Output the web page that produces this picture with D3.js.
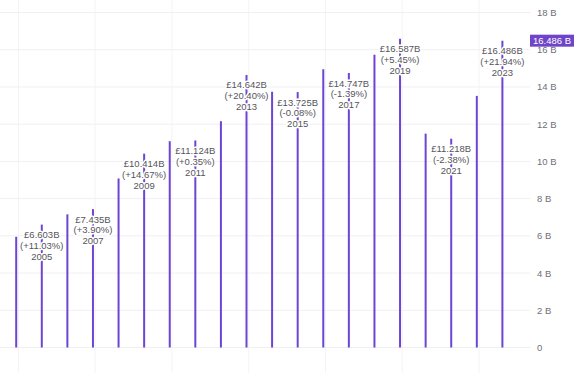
<!DOCTYPE html>
<html>
<head>
<meta charset="utf-8">
<script src="https://cdn.jsdelivr.net/npm/d3@7"></script>
<style>
  html, body { margin: 0; padding: 0; background: #fff; }
  svg { display: block; }
</style>
</head>
<body>
<div id="chart"></div>
<script>
const years = [2004, 2005, 2006, 2007, 2008, 2009, 2010, 2011, 2012, 2013,
               2014, 2015, 2016, 2017, 2018, 2019, 2020, 2021, 2022, 2023]
// billions of pounds
const values = [5.947, 6.603, 7.156, 7.435, 9.082, 10.414, 11.085, 11.124, 12.161, 14.642,
                13.736, 13.725, 14.955, 14.747, 15.730, 16.587, 11.492, 11.218, 13.520, 16.486]
const labelYears = [2005, 2007, 2009, 2011, 2013, 2015, 2017, 2019, 2021, 2023]
const labelChanges = ["+11.03%", "+3.90%", "+14.67%", "+0.35%", "+20.40%",
                      "-0.08%", "-1.39%", "+5.45%", "-2.38%", "+21.94%"]
const yTicks = [0, 2, 4, 6, 8, 10, 12, 14, 16, 18]
const gridYears = [2004, 2007, 2010, 2013, 2016, 2019, 2022]

const width = 577, height = 373
const purple = "#6d44d4"

const svg = d3.select("#chart").append("svg")
    .attr("width", width)
    .attr("height", height)

const x = d3.scalePoint()
    .domain(years)
    .range([16.2, 502.4])

const y = d3.scaleLinear()
    .domain([0, 18])
    .range([347.5, 12.5])

// grid
svg.append("g").selectAll("line")
    .data(gridYears)
    .join("line")
    .attr("x1", d => x(d) + 2.2)
    .attr("x2", d => x(d) + 2.2)
    .attr("y1", 0)
    .attr("y2", height)
    .attr("stroke", "#f4f4f6")
    .attr("stroke-width", 1)

svg.append("g").selectAll("line")
    .data(yTicks)
    .join("line")
    .attr("x1", 0)
    .attr("x2", 530)
    .attr("y1", d => y(d))
    .attr("y2", d => y(d))
    .attr("stroke", "#f0f0f2")
    .attr("stroke-width", 1)

// y axis on the right
const axis = svg.append("g")
    .attr("transform", "translate(533,0)")
    .call(d3.axisRight(y)
        .tickValues(yTicks)
        .tickSize(0)
        .tickPadding(4)
        .tickFormat(d => d === 0 ? "0" : d + " B"))
axis.select(".domain").remove()
axis.selectAll("text")
    .attr("fill", "#707078")
    .attr("font-family", "Liberation Sans, Arial, sans-serif")
    .attr("font-size", 9.5)

// bars
const data = years.map((yr, i) => ({year: yr, value: values[i]}))
svg.append("g").selectAll("line")
    .data(data)
    .join("line")
    .attr("x1", d => x(d.year))
    .attr("x2", d => x(d.year))
    .attr("y1", y(0))
    .attr("y2", d => y(d.value))
    .attr("stroke", purple)
    .attr("stroke-width", 2)

// labels on odd years
const labels = labelYears.map((yr, i) => ({
    year: yr,
    value: values[years.indexOf(yr)],
    change: labelChanges[i]
}))
const lbl = svg.append("g").selectAll("text")
    .data(labels)
    .join("text")
    .attr("x", d => x(d.year))
    .attr("y", d => y(d.value) + 13.5)
    .attr("text-anchor", "middle")
    .attr("font-family", "Liberation Sans, Arial, sans-serif")
    .attr("font-size", 9.5)
    .attr("fill", "#55555c")
    .attr("stroke", "#fff")
    .attr("stroke-width", 3)
    .attr("stroke-linejoin", "round")
    .attr("paint-order", "stroke")
lbl.append("tspan")
    .attr("x", d => x(d.year))
    .text(d => "£" + d.value.toFixed(3) + "B")
lbl.append("tspan")
    .attr("x", d => x(d.year))
    .attr("dy", 10.8)
    .text(d => "(" + d.change + ")")
lbl.append("tspan")
    .attr("x", d => x(d.year))
    .attr("dy", 10.8)
    .text(d => d.year)

// last value badge
const last = values[values.length - 1]
const badge = svg.append("g")
    .attr("transform", `translate(530,${y(last)})`)
badge.append("rect")
    .attr("x", 0)
    .attr("y", -6)
    .attr("width", 44)
    .attr("height", 12)
    .attr("fill", "#6f44c8")
badge.append("text")
    .attr("x", 22)
    .attr("y", 3.4)
    .attr("text-anchor", "middle")
    .attr("font-family", "Liberation Sans, Arial, sans-serif")
    .attr("font-size", 9.5)
    .attr("fill", "#fff")
    .text(last.toFixed(3) + " B")
</script>
</body>
</html>
